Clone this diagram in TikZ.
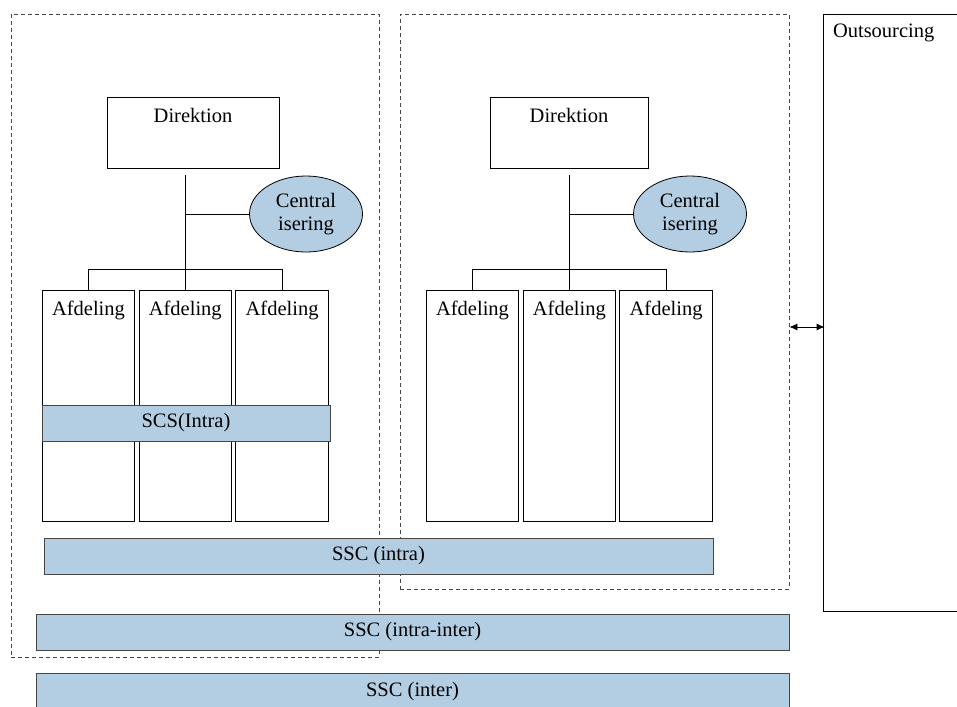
\documentclass[tikz,border=0pt]{standalone}
\usepackage{fontspec}
\setmainfont{Liberation Serif}
\usepackage{xcolor}
\definecolor{paleblue}{RGB}{179,205,227}
\definecolor{edgegray}{RGB}{70,70,70}
\usetikzlibrary{positioning,shapes.geometric,arrows.meta}

\begin{document}
\begin{tikzpicture}[x=1pt,y=-1pt,
                every node/.style={font=\fontsize{20.5}{23}\selectfont},
                frame/.style={draw=edgegray, dash pattern=on 4pt off 3pt, line width=0.8pt, inner sep=0pt},
                dirbox/.style={draw, line width=0.8pt, inner sep=0pt, minimum height=71pt, text height=25pt, text depth=46pt},
                afd/.style={draw, line width=0.8pt, inner sep=0pt, minimum width=92.5pt, text height=25pt, text depth=206pt},
                central/.style={ellipse, draw, line width=0.8pt, fill=paleblue, minimum width=113pt, minimum height=76pt, inner sep=1pt, align=center},
                bar/.style={draw=edgegray, line width=0.8pt, fill=paleblue, minimum height=36pt, inner sep=0pt}
            ]
                \clip (0,0) rectangle (957,706);
                % frames
                \node[frame, minimum width=368pt, minimum height=643pt] (frameL) at (195,335.5) {};
                \node[frame, minimum width=389pt, minimum height=575pt] (frameR) at (594.5,301.5) {};
                \node[draw, line width=0.8pt, inner xsep=10pt, inner ysep=0pt, text width=157pt, align=left,
                    text height=24pt, text depth=573pt] (outs) at (911.5,312.5) {Outsourcing};
                % two organisations
                \foreach \s/\ox/\dx/\dw in {L/0/193/172, R/384/569/158} {
                    \node[dirbox, minimum width=\dw pt] (dir\s) at (\dx,132.5) {Direktion};
                    \node[central] (cen\s) at (306+\ox,214) {Central\\isering};
                    \node[afd] (afd\s1) at (88.5+\ox,405.5) {Afdeling};
                    \node[afd, right=3.5pt of afd\s1] (afd\s2) {Afdeling};
                    \node[afd, right=3.5pt of afd\s2] (afd\s3) {Afdeling};
                    \draw[line width=0.8pt] (afd\s2.north |- dir\s.south) ++(0,7) -- (afd\s2.north);
                    \draw[line width=0.8pt] (afd\s2.north |- cen\s.west) -- (cen\s.west);
                    \draw[line width=0.8pt] (afd\s1.north) -- ++(0,-20) -| (afd\s3.north);
                }
                % shared service bars
                \node[bar, minimum width=288pt] (scs) at (186,423) {SCS(Intra)};
                \node[bar, minimum width=669pt] (sscintra) at (378.5,556) {SSC (intra)};
                \node[bar, minimum width=753pt] (sscmix) at (412.5,632) {SSC (intra-inter)};
                \node[bar, minimum width=753pt, minimum height=37pt] (sscinter) at (412.5,691.5) {SSC (inter)};
                % link to outsourcing
                \coordinate (arrL) at ([yshift=-25.5pt]frameR.east);
                \draw[{Latex[length=8pt,width=7pt]}-{Latex[length=8pt,width=7pt]}, line width=0.8pt] (arrL) -- ([xshift=2pt]arrL -| outs.west);
            \end{tikzpicture}
\end{document}
